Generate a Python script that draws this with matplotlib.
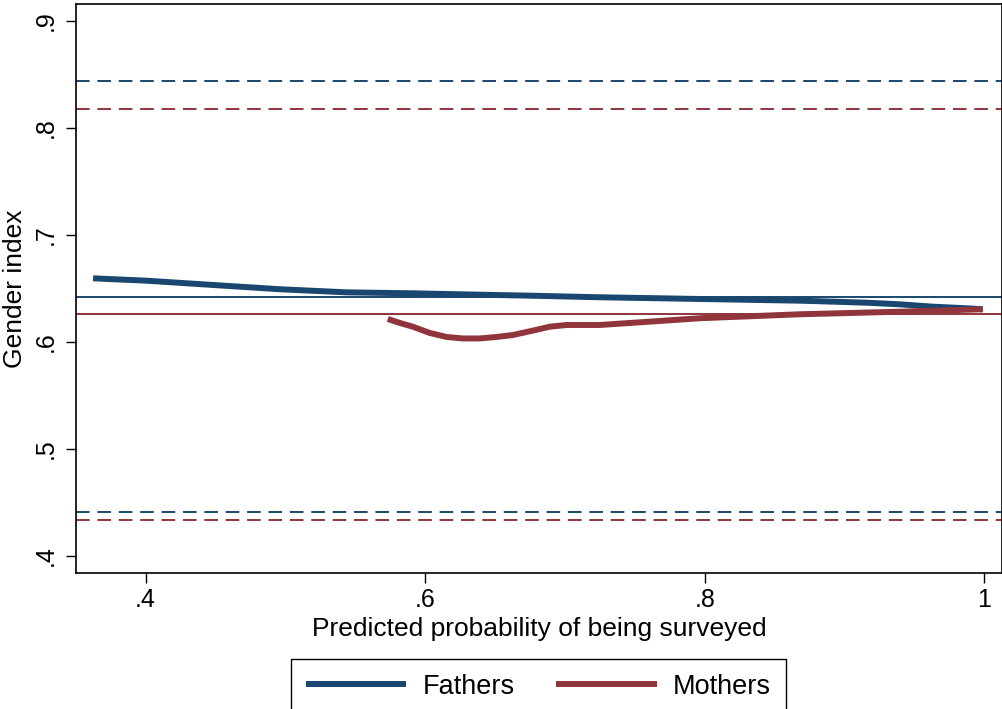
import matplotlib
matplotlib.use("Agg")
import matplotlib.pyplot as plt

plt.rcParams['font.family'] = ['Liberation Sans', 'DejaVu Sans']

# reference lines (means and bounds)
fathers_mean = 0.6423
mothers_mean = 0.6259
fathers_bounds = [0.8436, 0.4408]
mothers_bounds = [0.8178, 0.4333]

# smoothed curves
fathers_x = [0.3625, 0.4007, 0.4481, 0.4961, 0.5438, 0.5912, 0.6391, 0.6749, 0.7249,
             0.7966, 0.8680, 0.8916, 0.9160, 0.9396, 0.9632, 0.9875, 0.9989]
fathers_y = [0.6595, 0.6573, 0.6533, 0.6493, 0.6464, 0.6455, 0.6442, 0.6433, 0.6418,
             0.6402, 0.6386, 0.6377, 0.6367, 0.6352, 0.6330, 0.6315, 0.6306]
mothers_x = [0.5733, 0.5819, 0.5912, 0.6034, 0.6153, 0.6270, 0.6391, 0.6513, 0.6627,
             0.6770, 0.6892, 0.7013, 0.7249, 0.7607, 0.7966, 0.8680, 0.9395, 0.9989]
mothers_y = [0.6215, 0.6178, 0.6143, 0.6084, 0.6047, 0.6033, 0.6033, 0.6047, 0.6065,
             0.6106, 0.6143, 0.6159, 0.6159, 0.6190, 0.6222, 0.6259, 0.6283, 0.6306]

xticks = [0.4, 0.6, 0.8, 1.0]
xtick_labels = ['.4', '.6', '.8', '1']
yticks = [0.4, 0.5, 0.6, 0.7, 0.8, 0.9]
ytick_labels = ['.4', '.5', '.6', '.7', '.8', '.9']

navy = '#1a476f'
maroon = '#90353b'

fig = plt.figure(figsize=(10.03, 7.09), dpi=100)
ax = fig.add_axes([0.0758, 0.1914, 0.9229, 0.8025])

for y in fathers_bounds:
    ax.axhline(y, color=navy, lw=1.4, ls=(0, (7, 4)))
for y in mothers_bounds:
    ax.axhline(y, color=maroon, lw=1.4, ls=(0, (7, 4)))
ax.axhline(fathers_mean, color=navy, lw=1.4)
ax.axhline(mothers_mean, color=maroon, lw=1.4)

ax.plot(fathers_x, fathers_y, color=navy, lw=4.3, solid_capstyle='butt',
        solid_joinstyle='round', label='Fathers')
ax.plot(mothers_x, mothers_y, color=maroon, lw=4.3, solid_capstyle='butt',
        solid_joinstyle='round', label='Mothers')

ax.set_xlim(0.3503, 1.01245)
ax.set_ylim(0.3838, 0.9156)
ax.set_xticks(xticks)
ax.set_xticklabels(xtick_labels, fontsize=18)
ax.set_yticks(yticks)
ax.set_yticklabels(ytick_labels, fontsize=18, rotation=90, va='center')
ax.tick_params(direction='out', length=7, width=1, color='black')
ax.tick_params(axis='y', pad=6)

for s in ax.spines.values():
    s.set_linewidth(1.2)

ax.set_xlabel('Predicted probability of being surveyed', fontsize=19, labelpad=4)
ax.set_ylabel('Gender index', fontsize=19, labelpad=5)

fig.legend(loc='upper center', bbox_to_anchor=(0.5367, 0.0705), ncol=2, fontsize=19.5,
           frameon=True, fancybox=False, edgecolor='black', framealpha=1,
           handlelength=3.7, handletextpad=0.6, columnspacing=1.55,
           borderpad=0.55, borderaxespad=0)

fig.savefig('out.png', dpi=100)
